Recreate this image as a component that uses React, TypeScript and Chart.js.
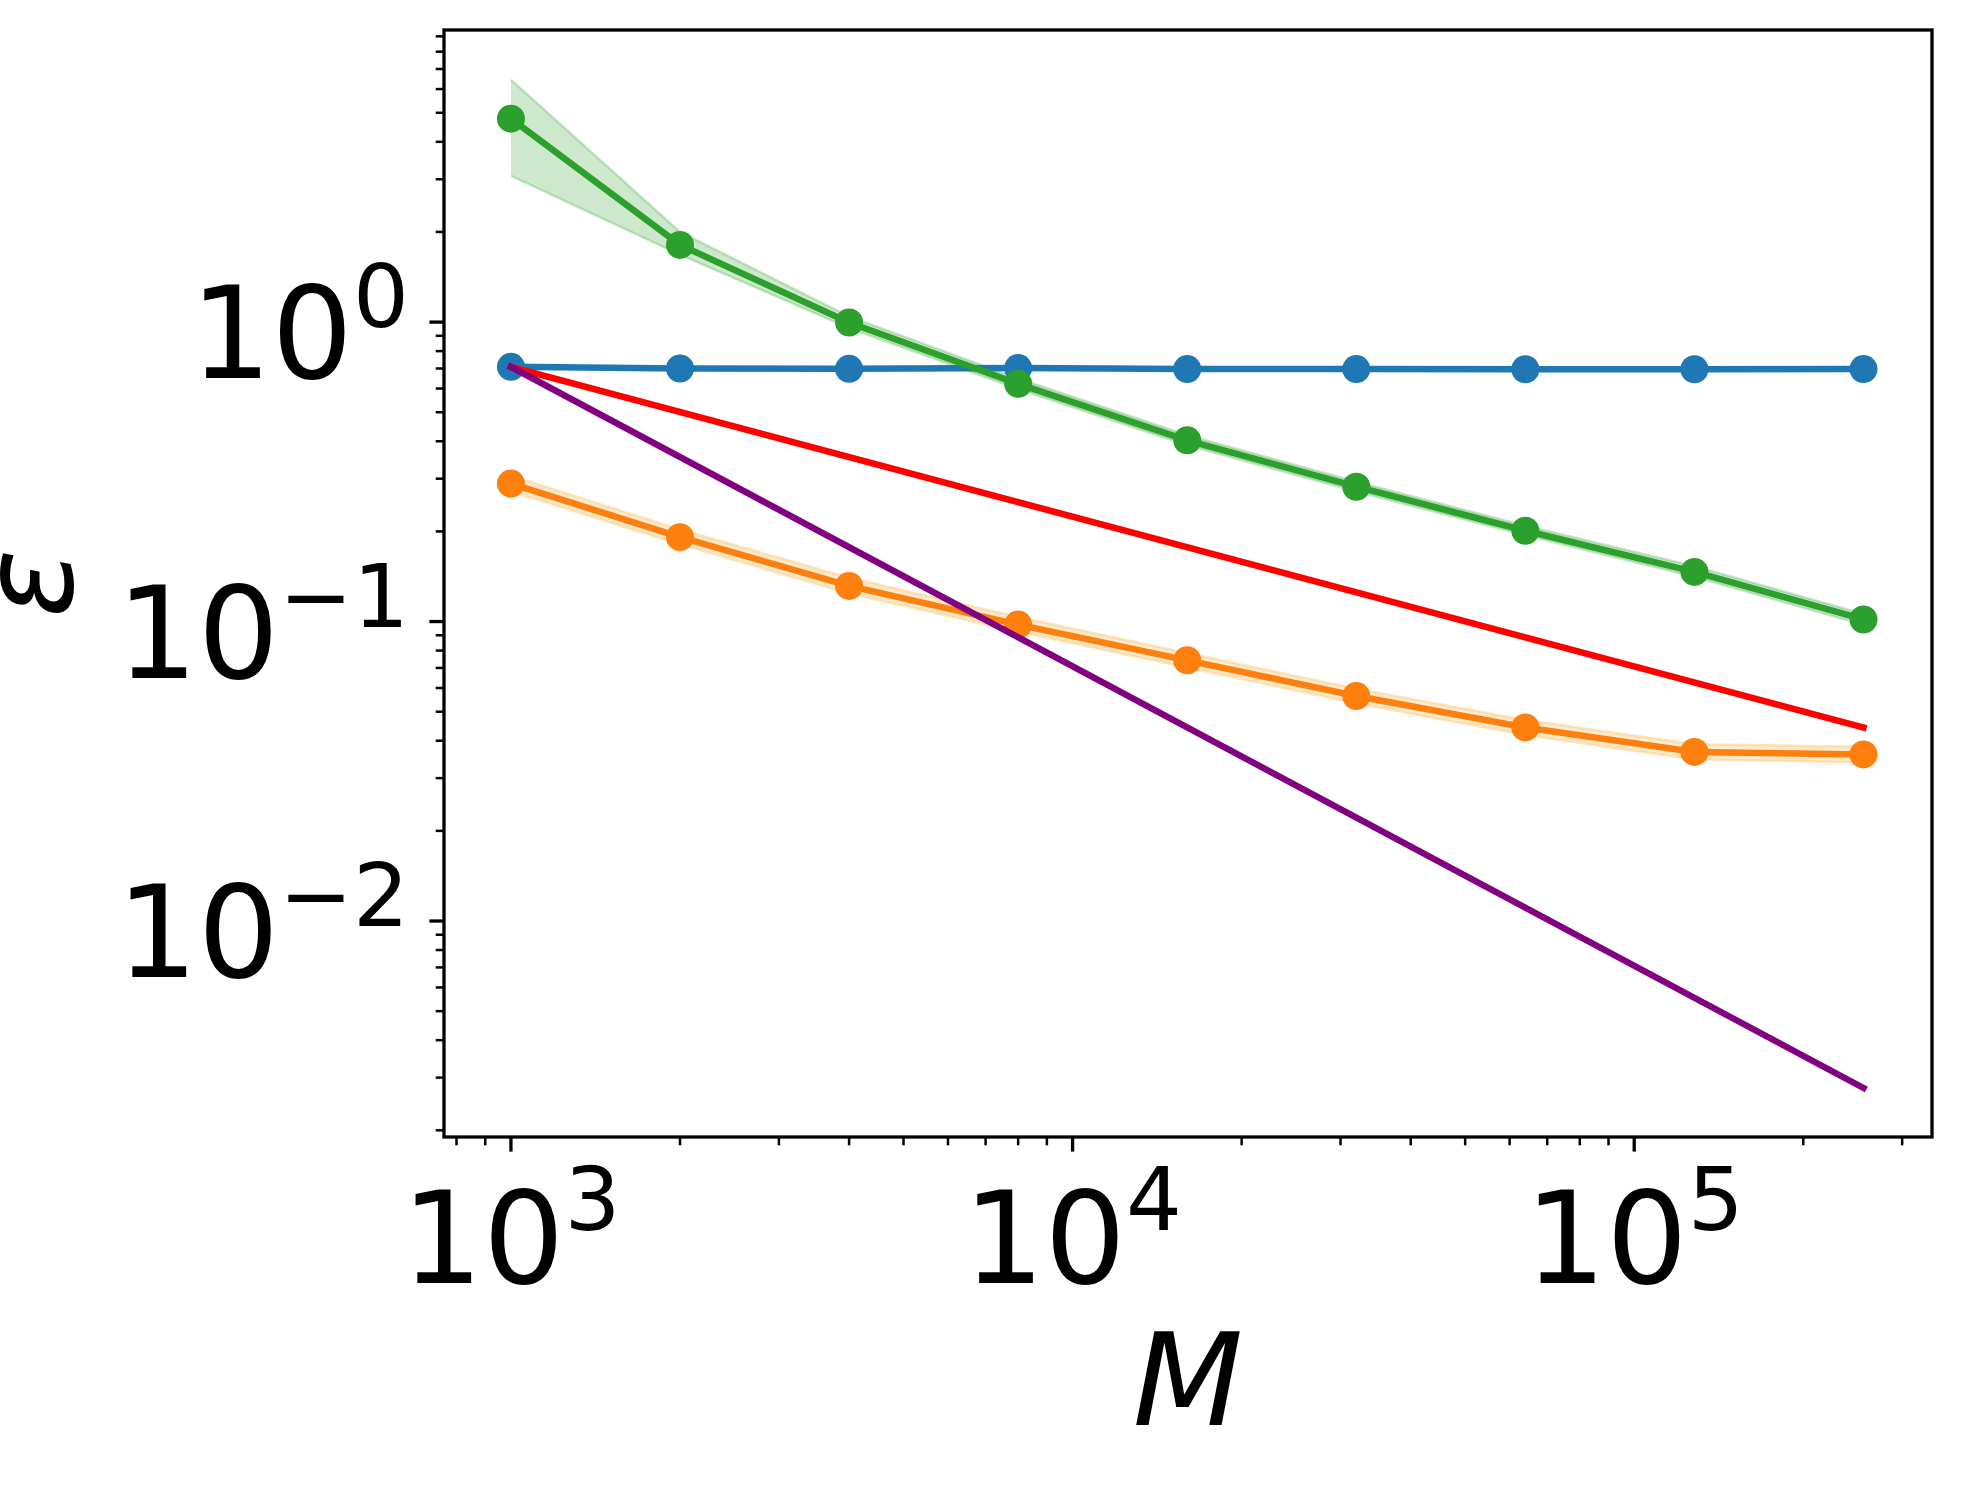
import React, { useEffect, useRef } from "react";
import { Chart, registerables } from "chart.js";

Chart.register(...registerables);

// ---- data ----
const M = [1000, 2000, 4000, 8000, 16000, 32000, 64000, 128000, 256000];
const blueErr = [0.709, 0.7, 0.698, 0.702, 0.697, 0.697, 0.696, 0.696, 0.697];
const orangeErr = [0.289, 0.1914, 0.1315, 0.0977, 0.0742, 0.0564, 0.0443, 0.0367, 0.036];
const orangeLow = [0.272, 0.181, 0.124, 0.0925, 0.0702, 0.0533, 0.0418, 0.0346, 0.0339];
const orangeHigh = [0.307, 0.203, 0.14, 0.1035, 0.0785, 0.0597, 0.0469, 0.0389, 0.0382];
const greenErr = [4.78, 1.81, 0.997, 0.622, 0.403, 0.282, 0.201, 0.1465, 0.1016];
const greenLow = [3.08, 1.68, 0.955, 0.598, 0.388, 0.272, 0.194, 0.141, 0.0975];
const greenHigh = [6.45, 2.0, 1.045, 0.648, 0.419, 0.293, 0.209, 0.153, 0.106];
const refM = [1000, 256000];
const redRef = [0.709, 0.0443];
const purpleRef = [0.709, 0.00277];

const xTickValues = [1000, 10000, 100000];
const xTickExponents = ["3", "4", "5"];
const yTickValues = [1, 0.1, 0.01];
const yTickExponents = ["0", "\u22121", "\u22122"];
const xAxisLabel = "M";
const yAxisLabel = "\u03b5";

const X_MIN = 760;
const X_MAX = 339000;
const Y_MIN = 0.0019;
const Y_MAX = 9.45;

const pts = (xs: number[], ys: number[]) => xs.map((x, i) => ({ x, y: ys[i] }));

const FONT = '"DejaVu Sans", "Liberation Sans", sans-serif';

function minorTicks(min: number, max: number, majors: number[]) {
  const out: number[] = [];
  for (let d = Math.floor(Math.log10(min)) - 1; d <= Math.ceil(Math.log10(max)); d++) {
    for (let k = 2; k <= 9; k++) {
      const v = k * Math.pow(10, d);
      if (v >= min && v <= max && !majors.includes(v)) out.push(v);
    }
  }
  return out;
}

const axesPlugin = {
  id: "mplAxes",
  afterDraw(chart: any) {
    const ctx: CanvasRenderingContext2D = chart.ctx;
    const { left, right, top, bottom } = chart.chartArea;
    const xs = chart.scales.x;
    const ys = chart.scales.y;
    ctx.save();
    ctx.strokeStyle = "#000";
    ctx.fillStyle = "#000";
    // ticks
    const majorLen = 14.6;
    const minorLen = 8.3;
    ctx.lineCap = "butt";
    ctx.lineWidth = 3.3;
    xTickValues.forEach((v) => {
      const px = xs.getPixelForValue(v);
      ctx.beginPath();
      ctx.moveTo(px, bottom);
      ctx.lineTo(px, bottom + majorLen);
      ctx.stroke();
    });
    yTickValues.forEach((v) => {
      const py = ys.getPixelForValue(v);
      ctx.beginPath();
      ctx.moveTo(left, py);
      ctx.lineTo(left - majorLen, py);
      ctx.stroke();
    });
    ctx.lineWidth = 2.5;
    minorTicks(X_MIN, X_MAX, xTickValues).forEach((v) => {
      const px = xs.getPixelForValue(v);
      ctx.beginPath();
      ctx.moveTo(px, bottom);
      ctx.lineTo(px, bottom + minorLen);
      ctx.stroke();
    });
    minorTicks(Y_MIN, Y_MAX, yTickValues).forEach((v) => {
      const py = ys.getPixelForValue(v);
      ctx.beginPath();
      ctx.moveTo(left, py);
      ctx.lineTo(left - minorLen, py);
      ctx.stroke();
    });
    // frame
    ctx.lineWidth = 3.3;
    ctx.lineJoin = "miter";
    ctx.strokeRect(left, top, right - left, bottom - top);

    // tick labels
    const mainFont = `128px ${FONT}`;
    const supFont = `88px ${FONT}`;
    ctx.textBaseline = "alphabetic";
    ctx.textAlign = "left";
    xTickValues.forEach((v, i) => {
      const px = xs.getPixelForValue(v);
      ctx.font = mainFont;
      const w1 = ctx.measureText("10").width;
      ctx.font = supFont;
      const w2 = ctx.measureText(xTickExponents[i]).width;
      const x0 = px - (w1 + w2) / 2;
      const base = bottom + 146;
      ctx.font = mainFont;
      ctx.fillText("10", x0, base);
      ctx.font = supFont;
      ctx.fillText(xTickExponents[i], x0 + w1, base - 53);
    });
    yTickValues.forEach((v, i) => {
      const py = ys.getPixelForValue(v);
      ctx.font = mainFont;
      const w1 = ctx.measureText("10").width;
      ctx.font = supFont;
      const w2 = ctx.measureText(yTickExponents[i]).width;
      const rightEdge = 409;
      const x0 = rightEdge - (w1 + w2);
      const base = py + 56;
      ctx.font = mainFont;
      ctx.fillText("10", x0, base);
      ctx.font = supFont;
      ctx.fillText(yTickExponents[i], x0 + w1, base - 51);
    });

    // axis labels
    ctx.font = `italic 128px ${FONT}`;
    ctx.textAlign = "center";
    ctx.fillText(xAxisLabel, (left + right) / 2, 1425);
    ctx.save();
    ctx.translate(72, (top + bottom) / 2);
    ctx.rotate(-Math.PI / 2);
    ctx.fillText(yAxisLabel, 0, 0);
    ctx.restore();
    ctx.restore();
  },
};

export default function App() {
  const ref = useRef<HTMLCanvasElement | null>(null);
  useEffect(() => {
    if (!ref.current) return;
    const bandLine = (data: any, color: string, order: number, fill: any) => ({
      data,
      borderColor: color,
      borderWidth: 2.5,
      pointRadius: 0,
      pointHoverRadius: 0,
      fill,
      order,
    });
    const seriesLine = (data: any, color: string, order: number, radius: number, cap: CanvasLineCap = "butt") => ({
      data,
      borderColor: color,
      backgroundColor: color,
      borderWidth: 6.5,
      pointRadius: radius,
      pointHoverRadius: radius,
      pointBorderWidth: 0,
      pointBackgroundColor: color,
      borderCapStyle: cap,
      fill: false,
      order,
    });
    const chart = new Chart(ref.current, {
      type: "line",
      data: {
        datasets: [
          bandLine(pts(M, greenLow), "rgba(44,160,44,0.25)", 7, false),
          {
            ...bandLine(pts(M, greenHigh), "rgba(44,160,44,0.25)", 6, "-1"),
            backgroundColor: "rgba(44,160,44,0.24)",
          },
          bandLine(pts(M, orangeLow), "rgba(255,170,40,0.28)", 9, false),
          {
            ...bandLine(pts(M, orangeHigh), "rgba(255,170,40,0.28)", 8, "-1"),
            backgroundColor: "rgba(255,175,50,0.25)",
          },
          seriesLine(pts(M, blueErr), "#1f77b4", 5, 14),
          seriesLine(pts(M, orangeErr), "#ff7f0e", 4, 14),
          seriesLine(pts(M, greenErr), "#2ca02c", 3, 14),
          seriesLine(pts(refM, redRef), "#ff0000", 2, 0, "square"),
          seriesLine(pts(refM, purpleRef), "#800080", 1, 0, "square"),
        ] as any,
      },
      options: {
        animation: false,
        responsive: false,
        devicePixelRatio: 1,
        layout: { padding: { left: 0, top: 30, right: 29, bottom: 0 } },
        elements: { line: { tension: 0 } },
        plugins: {
          legend: { display: false },
          tooltip: { enabled: false },
          filler: { propagate: false },
        },
        scales: {
          x: {
            type: "logarithmic",
            min: X_MIN,
            max: X_MAX,
            grid: { display: false },
            border: { display: false },
            ticks: { display: false },
            afterFit: (s: any) => {
              s.height = 349;
            },
          },
          y: {
            type: "logarithmic",
            min: Y_MIN,
            max: Y_MAX,
            grid: { display: false },
            border: { display: false },
            ticks: { display: false },
            afterFit: (s: any) => {
              s.width = 444;
            },
          },
        },
      } as any,
      plugins: [axesPlugin],
    });
    return () => chart.destroy();
  }, []);
  return (
    <div style={{ position: "absolute", left: 0, top: 0, width: 1961, height: 1486, background: "#fff" }}>
      <canvas ref={ref} width={1961} height={1486} style={{ display: "block" }} />
    </div>
  );
}
